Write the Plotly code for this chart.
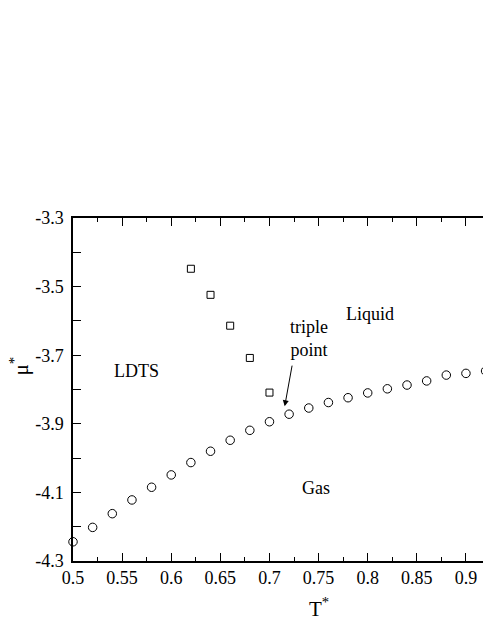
import plotly.graph_objects as go

# reduced temperature / chemical potential
t_gas = [0.50, 0.52, 0.54, 0.56, 0.58, 0.60, 0.62, 0.64, 0.66, 0.68, 0.70,
         0.72, 0.74, 0.76, 0.78, 0.80, 0.82, 0.84, 0.86, 0.88, 0.90, 0.92]
mu_gas = [-4.244, -4.202, -4.162, -4.122, -4.085, -4.049, -4.013, -3.980, -3.948,
          -3.919, -3.894, -3.872, -3.854, -3.838, -3.824, -3.810, -3.798, -3.787,
          -3.775, -3.758, -3.753, -3.746]

t_ldts = [0.62, 0.64, 0.66, 0.68, 0.70]
mu_ldts = [-3.448, -3.524, -3.614, -3.708, -3.809]

y_ticks = [-3.3, -3.4, -3.5, -3.6, -3.7, -3.8, -3.9, -4.0, -4.1, -4.2, -4.3]
y_labels = ["-3.3", "", "-3.5", "", "-3.7", "", "-3.9", "", "-4.1", "", "-4.3"]

serif = "Liberation Serif, Times New Roman, serif"

fig = go.Figure()
fig.add_trace(go.Scatter(
    x=t_gas, y=mu_gas, mode="markers",
    marker=dict(symbol="circle-open", size=8.5, color="black", line=dict(width=1)),
    showlegend=False, cliponaxis=False))
fig.add_trace(go.Scatter(
    x=t_ldts, y=mu_ldts, mode="markers",
    marker=dict(symbol="square-open", size=7, color="black", line=dict(width=1)),
    showlegend=False))

txt = dict(family=serif, size=18, color="black")
fig.add_annotation(x=0.565, y=-3.745, text="LDTS", showarrow=False, font=txt)
fig.add_annotation(x=0.802, y=-3.58, text="Liquid", showarrow=False, font=txt)
fig.add_annotation(x=0.747, y=-4.088, text="Gas", showarrow=False, font=txt)
fig.add_annotation(x=0.7405, y=-3.652, text="triple<br>point", showarrow=False,
                   font=txt)
fig.add_annotation(x=0.7155, y=-3.849, ax=0.7233, ay=-3.726, axref="x", ayref="y",
                   text="", showarrow=True, arrowhead=2, arrowsize=1.2,
                   arrowwidth=1, arrowcolor="black")

# axis titles placed as annotations (original x axis ran to 1.0, picture is cropped)
fig.add_annotation(x=0.75, y=-0.137, xref="x", yref="paper", text="T<sup>*</sup>",
                   xanchor="center", yanchor="middle", showarrow=False,
                   font=dict(family=serif, size=21, color="black"))
fig.add_annotation(x=-0.127, y=-3.73, xref="paper", yref="y", text="μ<sup>*</sup>",
                   xanchor="center", yanchor="middle", textangle=-90, showarrow=False,
                   font=dict(family=serif, size=21, color="black"))

fig.update_xaxes(
    range=[0.5, 0.9255], tickvals=[0.5, 0.55, 0.6, 0.65, 0.7, 0.75, 0.8, 0.85, 0.9],
    ticktext=["0.5", "0.55", "0.6", "0.65", "0.7", "0.75", "0.8", "0.85", "0.9"],
    ticks="inside", ticklen=8, tickwidth=1, tickcolor="black",
    minor=dict(dtick=0.025, tick0=0.5, ticks="inside", ticklen=4, tickcolor="black"),
    showline=True, linecolor="black", linewidth=1.5, mirror="ticks",
    showgrid=False, zeroline=False, tickfont=dict(family=serif, size=18, color="black"))
fig.update_yaxes(
    range=[-4.3, -3.3], tickvals=y_ticks, ticktext=y_labels,
    ticks="inside", ticklen=8, tickwidth=1, tickcolor="black", ticklabelstandoff=4,
    showline=True, linecolor="black", linewidth=1.5, mirror=False,
    showgrid=False, zeroline=False, tickfont=dict(family=serif, size=18, color="black"))

# page body adds an 8px offset, so the figure is drawn 8px smaller
fig.update_layout(
    width=483, height=627, plot_bgcolor="white", paper_bgcolor="white",
    margin=dict(l=65, r=0, t=210, b=74))

fig.write_html("out.html")
